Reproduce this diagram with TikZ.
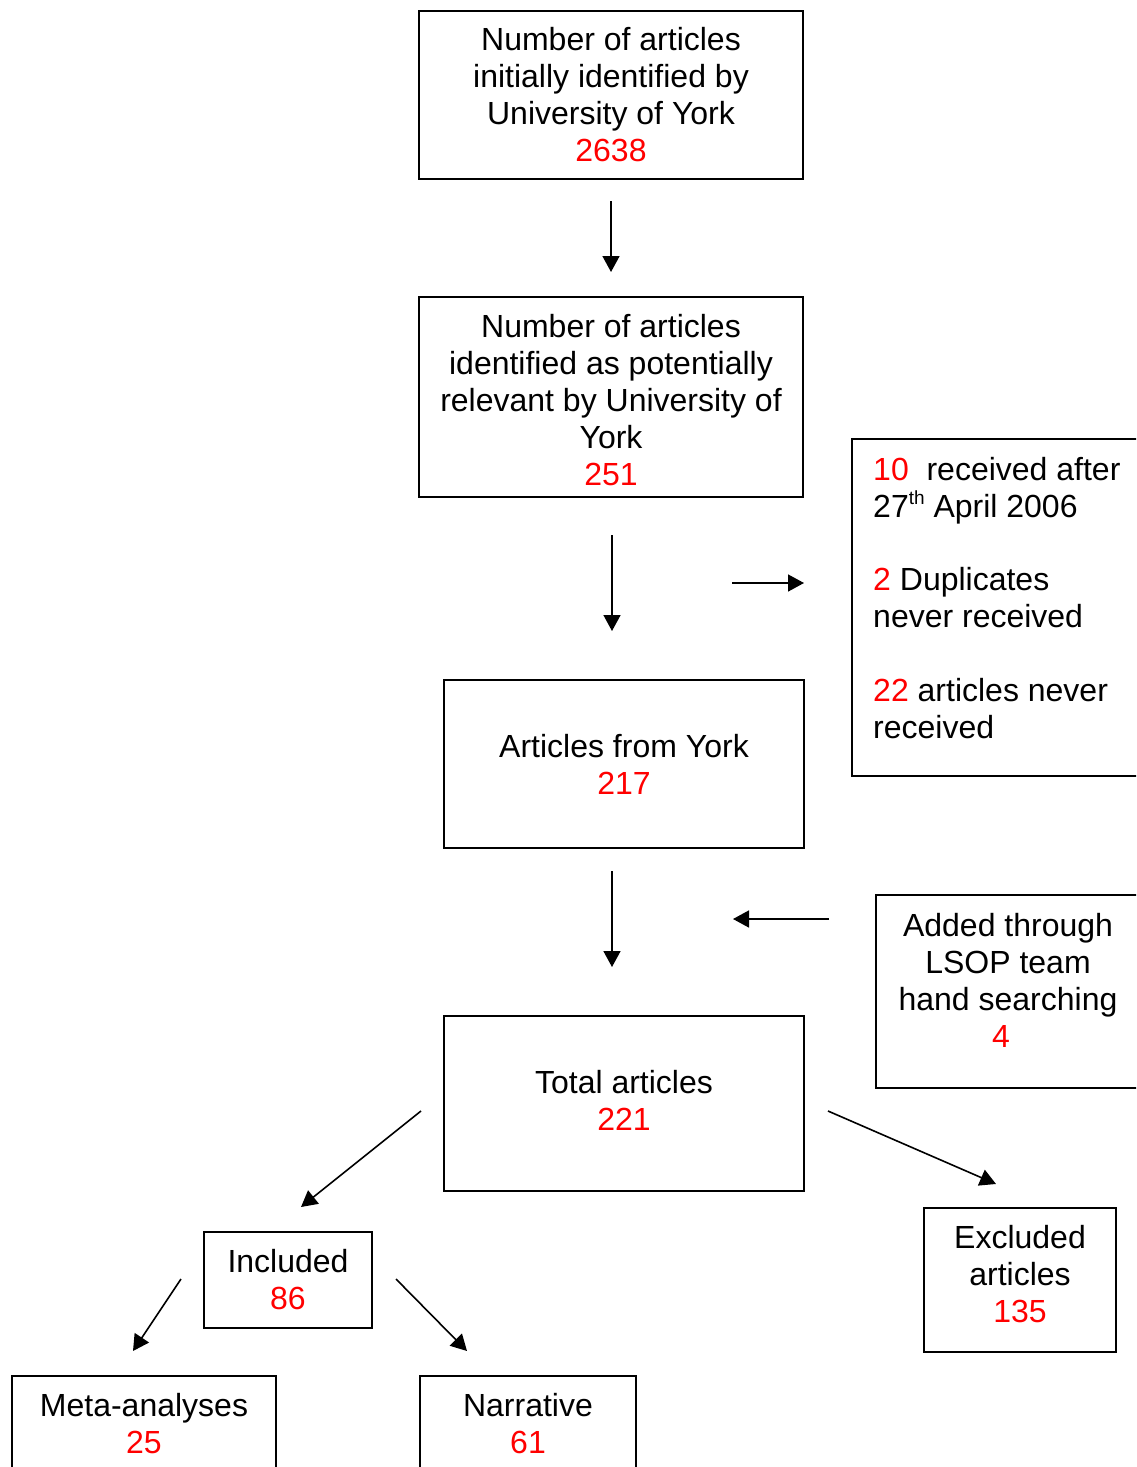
\documentclass[tikz,border=0pt]{standalone}
\usepackage{fontspec}
\setmainfont{Liberation Sans}
\usetikzlibrary{arrows.meta}
\definecolor{numred}{RGB}{255,0,0}
\newcommand{\num}[1]{{\color{numred}#1}}
\newcommand{\supth}{\raisebox{13pt}{\fontsize{19}{19}\selectfont th}}
\begin{document}
\begin{tikzpicture}[x=1pt,y=-1pt,
  box/.style={draw=black, line width=1.8pt, rectangle, inner sep=0pt},
  txt/.style={inner sep=0pt, align=center, font=\fontsize{32}{37}\selectfont},
  ltxt/.style={inner sep=0pt, align=left, font=\fontsize{32}{37}\selectfont},
  arr/.style={line width=1.6pt, -{Triangle[length=16pt,width=17pt]}},
]
\clip (0,0) rectangle (1136,1467);
\fill[white] (0,0) rectangle (1136,1467);

% boxes
\node[box, minimum width=384, minimum height=168] (b1) at (611,95) {};
\node[box, minimum width=384, minimum height=200] (b2) at (611,397) {};
\node[box, minimum width=288, minimum height=337] (lost) at (996,607.5) {};
\node[box, minimum width=360, minimum height=168] (york) at (624,764) {};
\node[box, minimum width=264, minimum height=193] (added) at (1008,991.5) {};
\node[box, minimum width=360, minimum height=175] (total) at (624,1103.5) {};
\node[box, minimum width=168, minimum height=96] (incl) at (288,1280) {};
\node[box, minimum width=192, minimum height=144] (excl) at (1020,1280) {};
\node[box, minimum width=264, minimum height=104] (meta) at (144,1428) {};
\node[box, minimum width=216, minimum height=104] (narr) at (528,1428) {};

% texts
\node[txt] (b1t) at ([yshift=0]b1.center) {Number of articles\\initially identified by\\University of York\\\num{2638}};
\node[txt] (b2t) at ([yshift=-3.5]b2.center) {Number of articles\\identified as potentially\\relevant by University of\\York\\\num{251}};
\node[ltxt, anchor=west] (lostt) at (873,598) {\num{10}\ \ received after\\27\supth\ April 2006\\[36.5pt]\num{2} Duplicates\\never received\\[36.5pt]\num{22} articles never\\received};
\node[txt] (yorkt) at ([yshift=-0.5]york.center) {Articles from York\\\num{217}};
\node[txt] (addedt) at ([yshift=11]added.center) {Added through\\LSOP team\\hand searching\\\num{4}\hspace*{14pt}};
\node[txt] (totalt) at ([yshift=3]total.center) {Total articles\\\num{221}};
\node[txt] (inclt) at ([yshift=0.5]incl.center) {Included\\\num{86}};
\node[txt] (exclt) at ([yshift=6]excl.center) {Excluded\\articles\\\num{135}};
\node[txt] (metat) at ([yshift=4.5]meta.center) {Meta-analyses\\\num{25}};
\node[txt] (narrt) at ([yshift=4.5]narr.center) {Narrative\\\num{61}};

% arrow end points
\coordinate (a1s) at (611,201); \coordinate (a1e) at (611,272);
\coordinate (a2s) at (612,535); \coordinate (a2e) at (612,631);
\coordinate (a3s) at (732,583); \coordinate (a3e) at (804,583);
\coordinate (a4s) at (612,871); \coordinate (a4e) at (612,967);
\coordinate (a5s) at (829,919); \coordinate (a5e) at (733,919);
\coordinate (a6s) at (421,1111); \coordinate (a6e) at (301,1207);
\coordinate (a7s) at (828,1111); \coordinate (a7e) at (996,1184);
\coordinate (a8s) at (181,1279); \coordinate (a8e) at (133,1351);
\coordinate (a9s) at (396,1279); \coordinate (a9e) at (467,1351);

\draw[arr] (a1s) -- (a1e);
\draw[arr] (a2s) -- (a2e);
\draw[arr] (a3s) -- (a3e);
\draw[arr] (a4s) -- (a4e);
\draw[arr] (a5s) -- (a5e);
\draw[arr] (a6s) -- (a6e);
\draw[arr] (a7s) -- (a7e);
\draw[arr] (a8s) -- (a8e);
\draw[arr] (a9s) -- (a9e);
\end{tikzpicture}
\end{document}
